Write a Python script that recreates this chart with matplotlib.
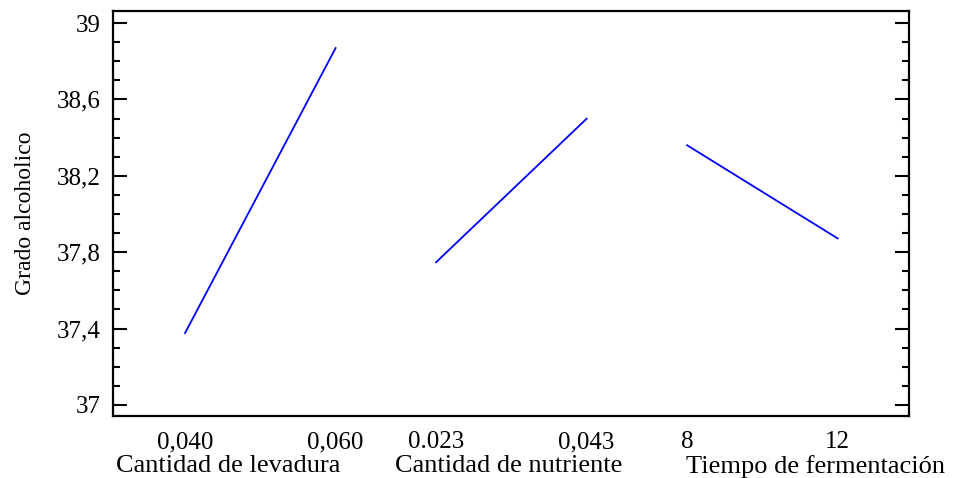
import matplotlib.pyplot as plt
from matplotlib.ticker import MultipleLocator
from matplotlib.transforms import blended_transform_factory

# main effects for alcohol content (low level -> high level of each factor)
factors = ["Cantidad de levadura", "Cantidad de nutriente", "Tiempo de fermentación"]
level_labels = [["0,040", "0,060"], ["0.023", "0,043"], ["8", "12"]]
grado_low = [37.376, 37.747, 38.36]
grado_high = [38.869, 38.499, 37.872]

# each factor gets its own segment on a shared x axis
seg_start = 0.287
seg_width = 0.60
name_x = [0.458, 1.578, 2.797]

plt.rcParams['font.family'] = ['Liberation Serif', 'DejaVu Serif']

fig = plt.figure(figsize=(9.54, 4.78), dpi=100)
ax = fig.add_axes([0.1184, 0.1297, 0.8344, 0.8473])

xticks = []
xlabels = []
for i in range(len(factors)):
    x0 = i + seg_start
    x1 = x0 + seg_width
    ax.plot([x0, x1], [grado_low[i], grado_high[i]], color="#0000ff", lw=1.3)
    xticks += [x0, x1]
    xlabels += level_labels[i]

ax.set_xlim(0, 3.171)
ax.set_ylim(36.942, 39.063)

ax.set_xticks(xticks)
ax.set_xticklabels(xlabels, fontsize=18)
ax.tick_params(axis="x", length=0, pad=11)

ax.yaxis.set_major_locator(MultipleLocator(0.4))
ax.yaxis.set_minor_locator(MultipleLocator(0.1))
ax.set_yticks([37, 37.4, 37.8, 38.2, 38.6, 39])
ax.set_yticklabels(["37", "37,4", "37,8", "38,2", "38,6", "39"], fontsize=18)
ax.tick_params(axis="y", which="major", direction="in", length=10, width=1.5,
               left=True, right=True, pad=9)
ax.tick_params(axis="y", which="minor", direction="in", length=5, width=1.5,
               left=True, right=True)

ax.set_ylabel("Grado alcoholico", fontsize=17)
ax.yaxis.set_label_coords(-0.097, 0.5)

trans = blended_transform_factory(ax.transData, ax.transAxes)
for i, name in enumerate(factors):
    ax.text(name_x[i], -0.124, name, transform=trans, ha="center", va="center",
            fontsize=19)

for s in ax.spines.values():
    s.set_linewidth(1.6)

fig.savefig("out.png", dpi=100)
